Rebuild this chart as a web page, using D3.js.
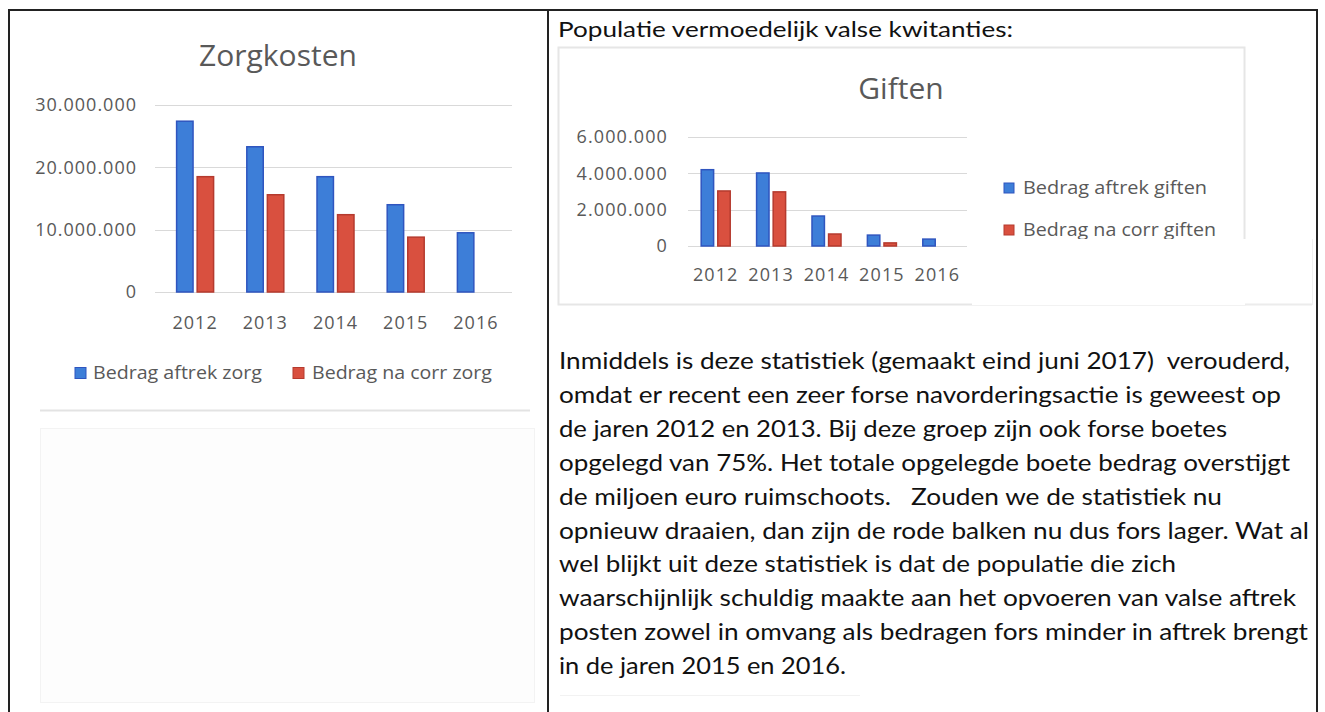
<!DOCTYPE html>
<html>
<head>
<meta charset="utf-8">
<script src="https://cdn.jsdelivr.net/npm/d3@7"></script>
<style>
  body { margin: 0; background: #fff; }
  svg text { font-family: "Open Sans", sans-serif; }
</style>
</head>
<body>
<div id="vis"></div>
<script>
// data read from the scanned page
const years = ["2012", "2013", "2014", "2015", "2016"];
const zorgAftrek = [27400000, 23300000, 18500000, 14000000, 9500000];
const zorgNaCorr = [18500000, 15600000, 12400000, 8800000, null];
const giftenAftrek = [4200000, 4020000, 1650000, 600000, 380000];
const giftenNaCorr = [3030000, 2980000, 660000, 170000, null];
const zorgTicks = [0, 10000000, 20000000, 30000000];
const giftenTicks = [0, 2000000, 4000000, 6000000];
const zorgSeries = ["Bedrag aftrek zorg", "Bedrag na corr zorg"];
const giftenSeries = ["Bedrag aftrek giften", "Bedrag na corr giften"];
const heading = "Populatie vermoedelijk valse kwitanties:";
const paragraph = [
  "Inmiddels is deze statistiek (gemaakt eind juni 2017)  verouderd,",
  "omdat er recent een zeer forse navorderingsactie is geweest op",
  "de jaren 2012 en 2013. Bij deze groep zijn ook forse boetes",
  "opgelegd van 75%. Het totale opgelegde boete bedrag overstijgt",
  "de miljoen euro ruimschoots.   Zouden we de statistiek nu",
  "opnieuw draaien, dan zijn de rode balken nu dus fors lager. Wat al",
  "wel blijkt uit deze statistiek is dat de populatie die zich",
  "waarschijnlijk schuldig maakte aan het opvoeren van valse aftrek",
  "posten zowel in omvang als bedragen fors minder in aftrek brengt",
  "in de jaren 2015 en 2016."
];
// right edge of each paragraph line in the scan
const paragraphEnds = [1290, 1281, 1227, 1290, 1222, 1309, 1176, 1296, 1308, 846];

const colors = ["#3d7ed8", "#d9503f"];
const strokes = ["#2f55bf", "#b53a2e"];

const width = 1325, height = 712;
const svg = d3.select("#vis").append("svg")
  .attr("width", width)
  .attr("height", height);

const nl = d3.formatLocale({decimal: ",", thousands: ".", grouping: [3], currency: ["€", ""]});
const fmt = nl.format(",");

// page borders (table cells)
svg.append("line").attr("x1", 8).attr("x2", 1318).attr("y1", 10).attr("y2", 10)
  .attr("stroke", "#222").attr("stroke-width", 2);
[9, 548, 1317].forEach(x => {
  svg.append("line").attr("x1", x).attr("x2", x).attr("y1", 10).attr("y2", height)
    .attr("stroke", "#222").attr("stroke-width", 2);
});

function barChart(g, o) {
  const y = d3.scaleLinear().domain([0, o.ymax]).range(o.yRange);
  const x0 = d3.scaleBand().domain(years).range(o.xRange).paddingInner(o.pad).paddingOuter(o.pad / 2);
  const x1 = d3.scaleBand().domain([0, 1]).range([0, x0.bandwidth()]).paddingInner(o.gap);

  // gridlines
  g.append("g").selectAll("line")
    .data(o.ticks)
    .join("line")
    .attr("x1", o.gridX[0]).attr("x2", o.gridX[1])
    .attr("y1", d => Math.round(y(d)) + 0.5).attr("y2", d => Math.round(y(d)) + 0.5)
    .attr("stroke", "#d9d9d9");

  // y axis labels
  const ya = g.append("g")
    .attr("transform", `translate(${o.gridX[0]},0)`)
    .call(d3.axisLeft(y).tickValues(o.ticks).tickFormat(fmt).tickSize(0).tickPadding(o.yPad));
  ya.select(".domain").remove();
  ya.selectAll("text").attr("font-size", 18).attr("fill", "#595959")
    .attr("letter-spacing", o.ls).style("font-family", "'Open Sans', sans-serif");

  // x axis labels
  const xa = g.append("g")
    .attr("transform", `translate(0,${o.yRange[0]})`)
    .call(d3.axisBottom(x0).tickSize(0).tickPadding(o.xPad));
  xa.select(".domain").remove();
  xa.selectAll("text").attr("font-size", 18).attr("fill", "#595959")
    .attr("letter-spacing", o.ls).style("font-family", "'Open Sans', sans-serif");

  // bars
  const rows = years.map((yr, i) => ({year: yr, vals: [o.a[i], o.b[i]]}));
  g.append("g").selectAll("g")
    .data(rows)
    .join("g")
    .attr("transform", d => `translate(${x0(d.year)},0)`)
    .selectAll("rect")
    .data(d => d.vals.map((v, k) => ({k, v})).filter(e => e.v != null))
    .join("rect")
    .attr("x", d => x1(d.k))
    .attr("width", x1.bandwidth())
    .attr("y", d => y(d.v))
    .attr("height", d => y(0) - y(d.v))
    .attr("fill", d => colors[d.k])
    .attr("stroke", d => strokes[d.k])
    .attr("stroke-width", 1.5);
}

// ---- left chart: Zorgkosten
const left = svg.append("g");
left.append("text")
  .attr("x", 278).attr("y", 66)
  .attr("text-anchor", "middle")
  .attr("font-size", 30).attr("fill", "#595959")
  .text("Zorgkosten");

barChart(left, {
  ymax: 30000000, ticks: zorgTicks, a: zorgAftrek, b: zorgNaCorr,
  xRange: [160, 511], yRange: [292, 105], gridX: [155, 512],
  pad: 0.473, gap: 0.2, yPad: 18, xPad: 24, ls: 1
});

const leftLegend = [{x: 75, tx: 93, w: 169}, {x: 293, tx: 312, w: 180}];
leftLegend.forEach((p, i) => {
  left.append("rect").attr("x", p.x).attr("y", 367.5).attr("width", 11).attr("height", 11)
    .attr("fill", colors[i]).attr("stroke", strokes[i]);
  left.append("text").attr("x", p.tx).attr("y", 373).attr("dy", "0.35em")
    .attr("font-size", 18).attr("fill", "#595959")
    .attr("textLength", p.w).attr("lengthAdjust", "spacingAndGlyphs")
    .text(zorgSeries[i]);
});
left.append("line").attr("x1", 40).attr("x2", 530).attr("y1", 410.5).attr("y2", 410.5)
  .attr("stroke", "#e3e3e3").attr("stroke-width", 2);
// faint empty panel below the chart
left.append("rect").attr("x", 40.5).attr("y", 428.5).attr("width", 494).attr("height", 274)
  .attr("fill", "#fdfdfd").attr("stroke", "#f3f3f3");

// ---- right: heading, Giften chart, paragraph
const right = svg.append("g");
right.append("text")
  .attr("x", 558).attr("y", 37)
  .attr("font-size", 22).attr("fill", "#111")
  .attr("textLength", 455).attr("lengthAdjust", "spacingAndGlyphs")
  .style("font-family", "Lato, sans-serif")
  .text(heading);

right.append("rect").attr("x", 558.5).attr("y", 47.5).attr("width", 686).attr("height", 257)
  .attr("fill", "#fff").attr("stroke", "#e6e6e6").attr("stroke-width", 2);

right.append("text")
  .attr("x", 901).attr("y", 99)
  .attr("text-anchor", "middle")
  .attr("font-size", 30).attr("fill", "#595959")
  .text("Giften");

barChart(right, {
  ymax: 6000000, ticks: giftenTicks, a: giftenAftrek, b: giftenNaCorr,
  xRange: [688, 965], yRange: [246, 137], gridX: [688, 967],
  pad: 0.476, gap: 0.25, yPad: 20, xPad: 22.5, ls: 1.1
});

const rightLegend = [{y: 188, w: 184}, {y: 230, w: 193}];
rightLegend.forEach((p, i) => {
  right.append("rect").attr("x", 1004).attr("y", p.y - 5).attr("width", 10).attr("height", 10)
    .attr("fill", colors[i]).attr("stroke", strokes[i]);
  right.append("text").attr("x", 1023).attr("y", p.y).attr("dy", "0.35em")
    .attr("font-size", 18).attr("fill", "#595959")
    .attr("textLength", p.w).attr("lengthAdjust", "spacingAndGlyphs")
    .text(giftenSeries[i]);
});
// pasted white strip that cuts the second legend entry
right.append("rect").attr("x", 972).attr("y", 239).attr("width", 341).attr("height", 66)
  .attr("fill", "#fff");
right.append("line").attr("x1", 1245).attr("x2", 1312).attr("y1", 304.5).attr("y2", 304.5)
  .attr("stroke", "#ececec").attr("stroke-width", 2);
right.append("line").attr("x1", 1312.5).attr("x2", 1312.5).attr("y1", 239).attr("y2", 305)
  .attr("stroke", "#f0f0f0");

right.append("g").selectAll("text")
  .data(paragraph)
  .join("text")
  .attr("x", 559)
  .attr("y", (d, i) => 369 + i * 33.9)
  .attr("font-size", 23).attr("fill", "#111")
  .attr("textLength", (d, i) => paragraphEnds[i] - 559)
  .attr("lengthAdjust", "spacingAndGlyphs")
  .style("font-family", "Lato, sans-serif")
  .style("white-space", "pre")
  .text(d => d);
right.append("line").attr("x1", 560).attr("x2", 860).attr("y1", 695.5).attr("y2", 695.5)
  .attr("stroke", "#f2f2f2");
</script>
</body>
</html>
